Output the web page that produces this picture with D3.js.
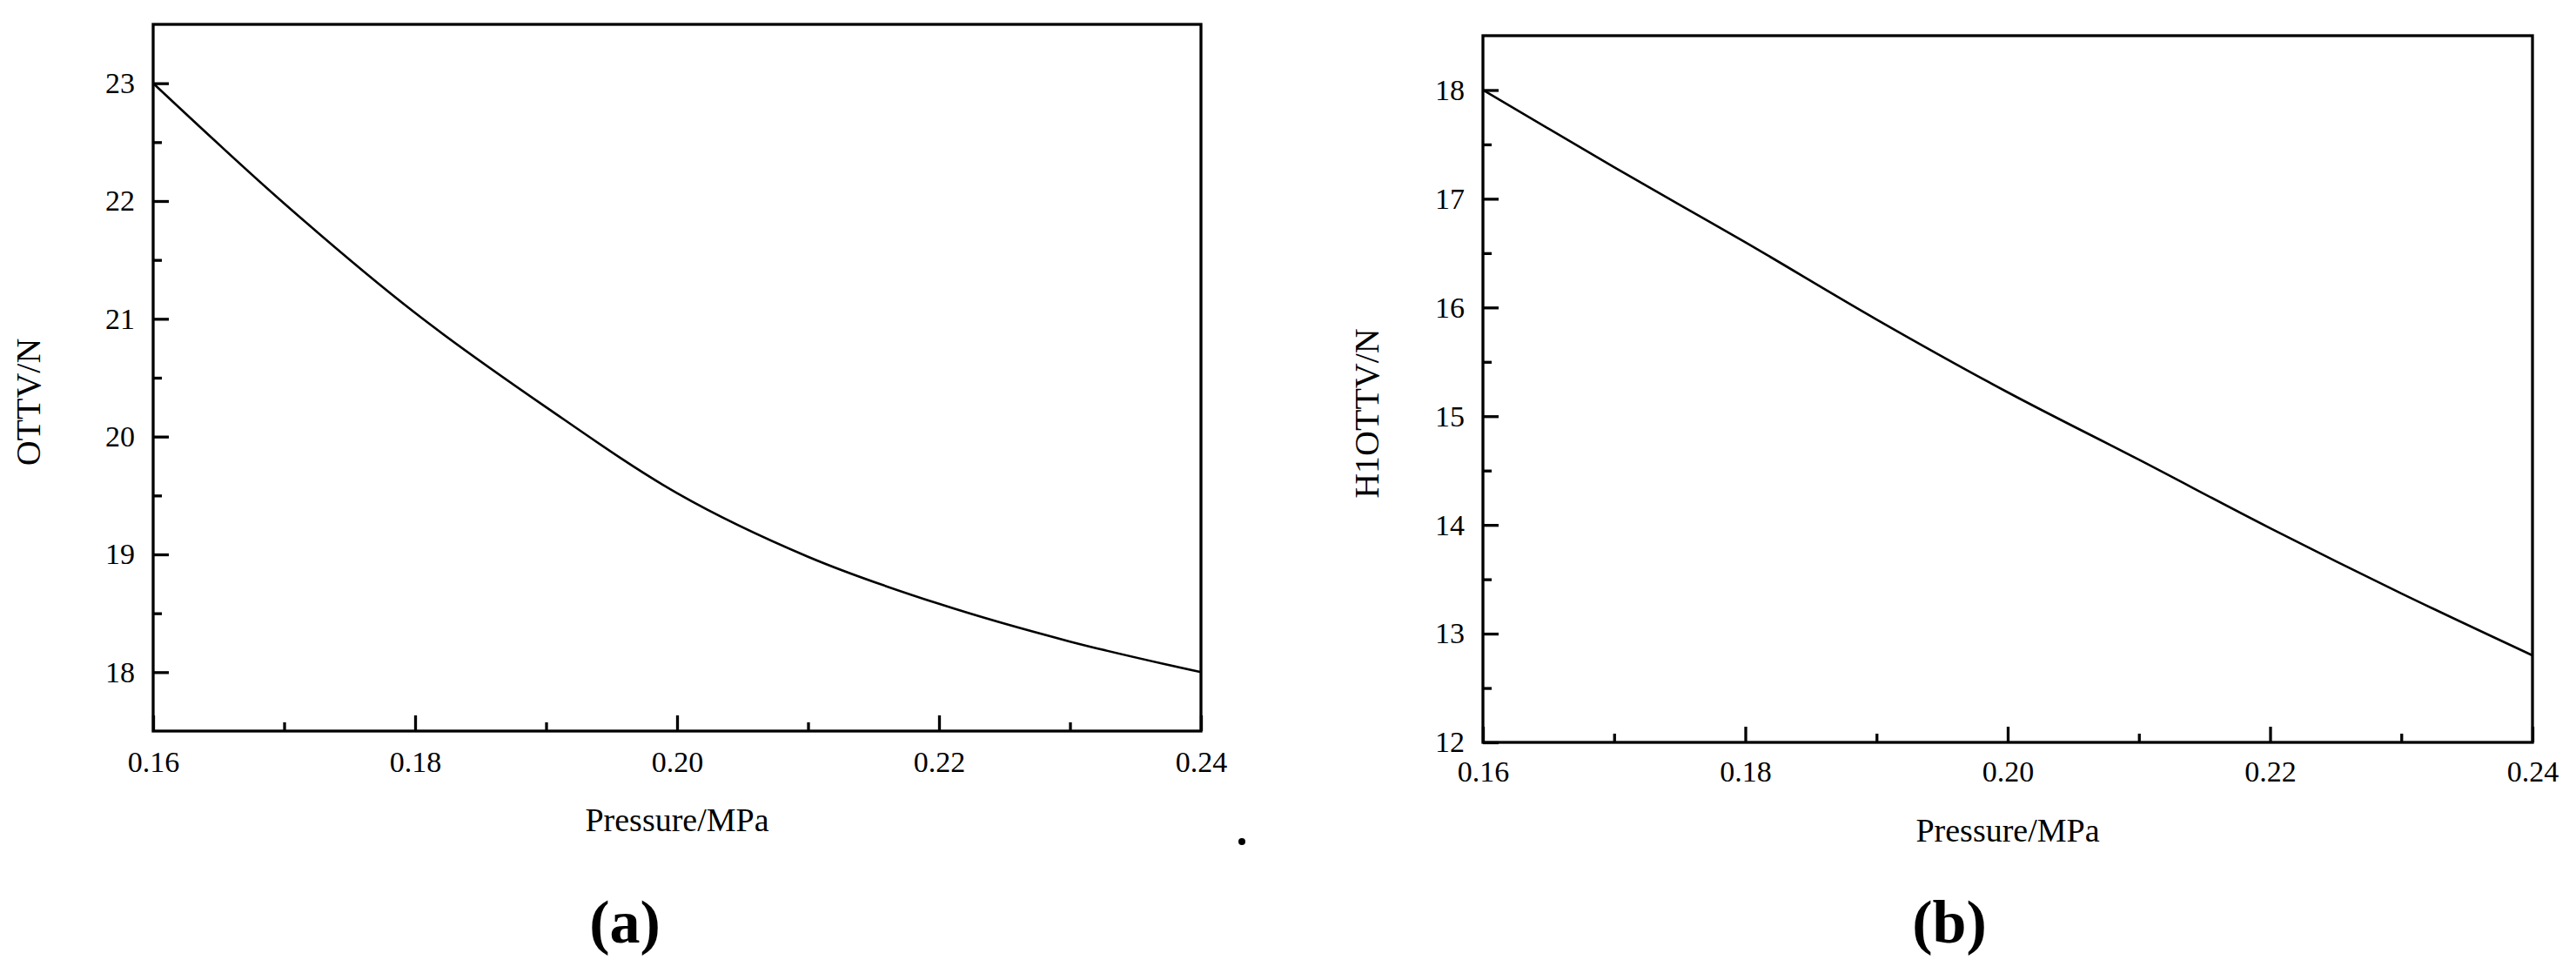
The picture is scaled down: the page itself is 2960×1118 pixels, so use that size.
<!DOCTYPE html>
<html>
<head>
<meta charset="utf-8">
<script src="https://cdn.jsdelivr.net/npm/d3@7"></script>
<style>
  body { margin: 0; background: #fff; }
  text { font-family: "Liberation Serif", "Times New Roman", serif; fill: #000; }
</style>
</head>
<body>
<script>
// pressure values (MPa)
const pressure = [0.16, 0.17, 0.18, 0.19, 0.20, 0.21, 0.22, 0.23, 0.24];
// panel (a) OTTV/N
const ottv = [23.0, 21.98, 21.05, 20.25, 19.52, 18.98, 18.58, 18.26, 18.0];
// panel (b) H1OTTV/N
const h1ottv = [18.0, 17.29, 16.6, 15.89, 15.22, 14.6, 13.97, 13.37, 12.8];

const xMajor = [0.16, 0.18, 0.20, 0.22, 0.24];
const xMinor = [0.17, 0.19, 0.21, 0.23];
const aMajor = [18, 19, 20, 21, 22, 23];
const aMinor = [18.5, 19.5, 20.5, 21.5, 22.5];
const bMajor = [12, 13, 14, 15, 16, 17, 18];
const bMinor = [12.5, 13.5, 14.5, 15.5, 16.5, 17.5];

const svg = d3.select("body").append("svg")
    .attr("width", 2960)
    .attr("height", 1118);

function panel(opt) {
    const g = svg.append("g").attr("transform", `translate(${opt.left},${opt.top})`);
    const w = opt.width, h = opt.height;

    let x = d3.scaleLinear().domain([0.16, 0.24]).range([0, w]);
    let y = d3.scaleLinear().domain(opt.yDomain).range([h, 0]);

    // minor ticks
    g.append("g").attr("transform", `translate(0,${h})`)
        .call(d3.axisBottom(x).tickValues(xMinor).tickSize(-10).tickFormat(""))
        .call(s => s.select(".domain").remove());
    g.append("g")
        .call(d3.axisLeft(y).tickValues(opt.yMinor).tickSize(-10).tickFormat(""))
        .call(s => s.select(".domain").remove());

    // major ticks
    const xa = g.append("g").attr("transform", `translate(0,${h})`)
        .call(d3.axisBottom(x).tickValues(xMajor).tickSize(-18).tickFormat(d3.format(".2f")));
    xa.select(".domain").remove();
    xa.selectAll("text").attr("y", opt.xLabelGap).attr("dy", 0)
        .style("font-size", "34px");

    const ya = g.append("g")
        .call(d3.axisLeft(y).tickValues(opt.yMajor).tickSize(-18).tickFormat(d3.format("d")));
    ya.select(".domain").remove();
    ya.selectAll("text").attr("x", -21).style("font-size", "34px");

    g.selectAll(".tick line").attr("stroke", "#000").attr("stroke-width", 3.3);
    g.selectAll(".tick text").style("font-family", "'Liberation Serif', serif");

    // frame
    g.append("rect").attr("width", w).attr("height", h)
        .attr("fill", "none").attr("stroke", "#000").attr("stroke-width", 3.3);

    // curve
    const line = d3.line()
        .x((d, i) => x(pressure[i]))
        .y(d => y(d))
        .curve(d3.curveMonotoneX);
    g.append("path").datum(opt.values)
        .attr("d", line)
        .attr("fill", "none")
        .attr("stroke", "#000")
        .attr("stroke-width", 2.6);

    // axis titles
    g.append("text")
        .attr("x", w / 2).attr("y", opt.xTitleY)
        .attr("text-anchor", "middle")
        .style("font-size", "38px")
        .text("Pressure/MPa");
    g.append("text")
        .attr("transform", `translate(${opt.yTitleX},${opt.yTitleC}) rotate(-90)`)
        .attr("text-anchor", "middle")
        .attr("dy", "0.35em")
        .style("font-size", "40px")
        .text(opt.yTitle);

    // panel label
    svg.append("text")
        .attr("x", opt.labelX).attr("y", 1083)
        .attr("text-anchor", "middle")
        .style("font-size", "70px")
        .style("font-weight", "bold")
        .text(opt.label);
}

panel({
    left: 176, top: 28, width: 1204, height: 812,
    yDomain: [17.5, 23.5], yMajor: aMajor, yMinor: aMinor,
    values: ottv, xLabelGap: 47, xTitleY: 927,
    yTitle: "OTTV/N", yTitleX: -144, yTitleC: 434,
    label: "(a)", labelX: 718
});

panel({
    left: 1704, top: 41, width: 1206, height: 812,
    yDomain: [12, 18.5], yMajor: bMajor, yMinor: bMinor,
    values: h1ottv, xLabelGap: 45, xTitleY: 926,
    yTitle: "H1OTTV/N", yTitleX: -134, yTitleC: 434,
    label: "(b)", labelX: 2240
});

// stray dot
svg.append("circle").attr("cx", 1427).attr("cy", 967).attr("r", 4).attr("fill", "#000");
</script>
</body>
</html>
